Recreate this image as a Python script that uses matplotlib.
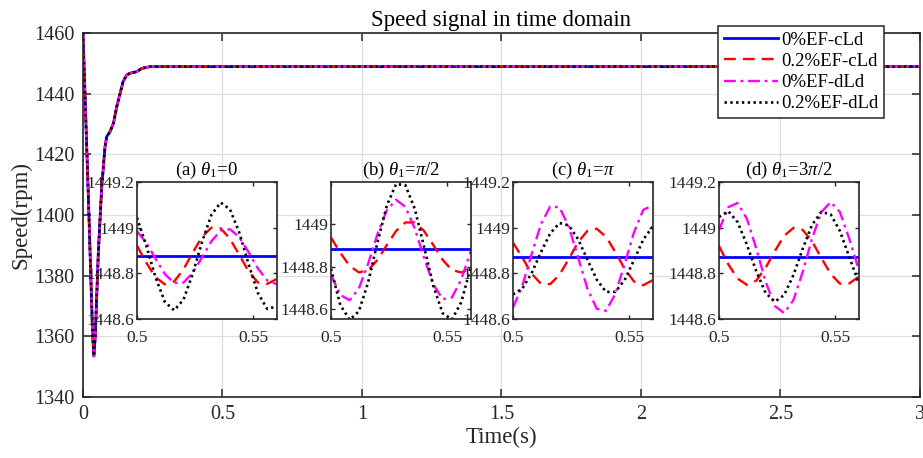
import matplotlib
matplotlib.use("Agg")
import matplotlib.pyplot as plt

plt.rcParams['font.family'] = ['Liberation Serif', 'DejaVu Serif']
plt.rcParams['mathtext.fontset'] = 'custom'
plt.rcParams['mathtext.rm'] = 'Liberation Serif'
plt.rcParams['mathtext.it'] = 'Liberation Serif:italic'

# ---- data -------------------------------------------------------------
series_labels = ['0%EF-cLd', '0.2%EF-cLd', '0%EF-dLd', '0.2%EF-dLd']
series_colors = ['#0000ff', '#ff0000', '#ff00ff', '#000000']

# start-up transient (all four cases overlap at this scale)
t_main = [0.0, 0.01, 0.02, 0.03, 0.035, 0.039, 0.044, 0.055, 0.067, 0.079,
          0.085, 0.097, 0.109, 0.121, 0.133, 0.144, 0.157, 0.168, 0.180,
          0.192, 0.210, 0.240, 0.300, 0.600, 1.0, 1.5, 2.0, 2.5, 3.0]
speed_main = [1460.0, 1432.0, 1404.0, 1374.0, 1360.0, 1353.5, 1360.0, 1387.5,
              1409.0, 1422.5, 1425.8, 1427.5, 1430.2, 1435.7, 1440.1, 1444.0,
              1446.2, 1446.7, 1447.0, 1447.2, 1448.3, 1448.9, 1448.9, 1448.9,
              1448.9, 1448.9, 1448.9, 1448.9, 1448.9]

# zoomed window 0.5 s - 0.56 s
t_zoom = [0.500, 0.504, 0.508, 0.512, 0.516, 0.520, 0.524, 0.528,
          0.532, 0.536, 0.540, 0.544, 0.548, 0.552, 0.556, 0.560]

# (a) theta1 = 0
a_cLd0 = [1448.876] * 16
a_cLd2 = [1448.922, 1448.847, 1448.783, 1448.752, 1448.765, 1448.818, 1448.892, 1448.961,
          1449.001, 1448.998, 1448.952, 1448.881, 1448.809, 1448.760, 1448.754, 1448.775]
a_dLd0 = [1448.985, 1448.935, 1448.864, 1448.797, 1448.758, 1448.760, 1448.803, 1448.871,
          1448.941, 1448.988, 1448.994, 1448.959, 1448.893, 1448.822, 1448.769, 1448.753]
a_dLd2 = [1449.045, 1448.922, 1448.782, 1448.675, 1448.638, 1448.685, 1448.799, 1448.939,
          1449.057, 1449.111, 1449.081, 1448.979, 1448.840, 1448.714, 1448.644, 1448.655]

# (b) theta1 = pi/2
b_cLd0 = [1448.884] * 16
b_cLd2 = [1448.936, 1448.865, 1448.804, 1448.773, 1448.784, 1448.832, 1448.901, 1448.967,
          1449.007, 1449.007, 1448.967, 1448.901, 1448.832, 1448.784, 1448.773, 1448.790]
b_dLd0 = [1448.763, 1448.667, 1448.643, 1448.698, 1448.815, 1448.953, 1449.064, 1449.113,
          1449.080, 1448.979, 1448.842, 1448.717, 1448.648, 1448.656, 1448.739, 1448.870]
b_dLd2 = [1448.790, 1448.621, 1448.551, 1448.591, 1448.728, 1448.914, 1449.086, 1449.187,
          1449.181, 1449.071, 1448.894, 1448.710, 1448.582, 1448.553, 1448.633, 1448.795]

# (c) theta1 = pi
c_cLd0 = [1448.871] * 16
c_cLd2 = [1448.935, 1448.870, 1448.799, 1448.755, 1448.753, 1448.794, 1448.864, 1448.937,
          1448.987, 1448.996, 1448.961, 1448.894, 1448.820, 1448.765, 1448.748, 1448.770]
c_dLd0 = [1448.650, 1448.745, 1448.884, 1449.016, 1449.094, 1449.090, 1449.005, 1448.870,
          1448.733, 1448.645, 1448.636, 1448.710, 1448.841, 1448.980, 1449.079, 1449.098]
c_dLd2 = [1448.708, 1448.733, 1448.801, 1448.893, 1448.976, 1449.021, 1449.011, 1448.950,
          1448.860, 1448.773, 1448.719, 1448.719, 1448.771, 1448.858, 1448.948, 1449.005]

# (d) theta1 = 3pi/2
d_cLd0 = [1448.873] * 16
d_cLd2 = [1448.920, 1448.840, 1448.777, 1448.750, 1448.768, 1448.824, 1448.898, 1448.965,
          1449.000, 1448.991, 1448.941, 1448.868, 1448.798, 1448.755, 1448.756, 1448.785]
d_dLd0 = [1448.990, 1449.091, 1449.109, 1449.040, 1448.910, 1448.765, 1448.657, 1448.626,
          1448.683, 1448.807, 1448.953, 1449.069, 1449.113, 1449.069, 1448.952, 1448.820]
d_dLd2 = [1449.048, 1449.073, 1449.025, 1448.926, 1448.810, 1448.715, 1448.676, 1448.705,
          1448.793, 1448.909, 1449.013, 1449.070, 1449.059, 1448.986, 1448.872, 1448.760]

inset_titles = [r'(a) $\theta_1$=0', r'(b) $\theta_1$=$\pi$/2',
                r'(c) $\theta_1$=$\pi$', r'(d) $\theta_1$=3$\pi$/2']
inset_data = [[a_cLd0, a_cLd2, a_dLd0, a_dLd2],
              [b_cLd0, b_cLd2, b_dLd0, b_dLd2],
              [c_cLd0, c_cLd2, c_dLd0, c_dLd2],
              [d_cLd0, d_cLd2, d_dLd0, d_dLd2]]
inset_ylims = [(1448.6, 1449.2), (1448.555, 1449.195),
               (1448.6, 1449.2), (1448.6, 1449.2)]
inset_yticks = [[1448.6, 1448.8, 1449.0, 1449.2], [1448.6, 1448.8, 1449.0],
                [1448.6, 1448.8, 1449.0, 1449.2], [1448.6, 1448.8, 1449.0, 1449.2]]

main_xticks = [0, 0.5, 1, 1.5, 2, 2.5, 3]
main_xticklabels = ['0', '0.5', '1', '1.5', '2', '2.5', '3']
main_yticks = [1340, 1360, 1380, 1400, 1420, 1440, 1460]

# ---- styles -----------------------------------------------------------
styles = [dict(linestyle='-', lw=2.0),
          dict(linestyle=(0, (5, 3)), lw=1.7),
          dict(linestyle=(0, (5, 2, 1.2, 2)), lw=1.7),
          dict(linestyle=(0, (0.9, 1.3)), lw=1.9)]

AX_COL = '#262626'

fig = plt.figure(figsize=(9.23, 4.58), dpi=100)
ax = fig.add_axes([0.0899, 0.1332, 0.9068, 0.7948])

for lab, col, st in zip(series_labels, series_colors, styles):
    ax.plot(t_main, speed_main, color=col, label=lab, **st)

ax.set_xlim(0, 3)
ax.set_ylim(1340, 1460)
ax.set_xticks(main_xticks)
ax.set_xticklabels(main_xticklabels)
ax.set_yticks(main_yticks)
ax.grid(True, color='#dedede', lw=0.9)
ax.set_axisbelow(True)
ax.tick_params(direction='in', length=6, width=1.1, top=True, right=True,
               labelsize=14.5, colors=AX_COL, pad=6)
for sp in ax.spines.values():
    sp.set_color(AX_COL)
    sp.set_linewidth(1.2)
ax.set_xlabel('Time(s)', fontsize=16.5, color=AX_COL, labelpad=2)
ax.set_ylabel('Speed(rpm)', fontsize=16.5, color=AX_COL, labelpad=2)
ax.set_title('Speed signal in time domain', fontsize=16.5, pad=5)

leg = fig.legend(loc='upper right', bbox_to_anchor=(884 / 923, 1 - 26 / 458),
                 fontsize=13.5, frameon=True, fancybox=False, framealpha=1,
                 edgecolor=AX_COL, handlelength=2.9, handletextpad=0.15,
                 labelspacing=0.22, borderpad=0.3, borderaxespad=0)
leg.get_frame().set_linewidth(1.1)

inset_lefts = [0.1484, 0.3586, 0.5558, 0.7790]
for left, title, curves, ylim, yt in zip(inset_lefts, inset_titles, inset_data,
                                        inset_ylims, inset_yticks):
    ia = fig.add_axes([left, 0.3035, 0.1512, 0.2985])
    ia.set_facecolor('white')
    for vals, col, st in zip(curves, series_colors, styles):
        ia.plot(t_zoom, vals, color=col, **st)
    ia.set_xlim(0.5, 0.56)
    ia.set_ylim(*ylim)
    ia.set_xticks([0.5, 0.55])
    ia.set_xticklabels(['0.5', '0.55'])
    ia.set_yticks(yt)
    ia.set_yticklabels(['%g' % v for v in yt])
    ia.tick_params(direction='in', length=3, width=1.0, top=True, right=True,
                   labelsize=12.5, colors=AX_COL)
    ia.tick_params(axis='x', pad=8)
    ia.tick_params(axis='y', pad=2)
    for sp in ia.spines.values():
        sp.set_color(AX_COL)
        sp.set_linewidth(1.2)
    ia.set_title(title, fontsize=13.5, pad=5)

fig.savefig('out.png', dpi=100)
